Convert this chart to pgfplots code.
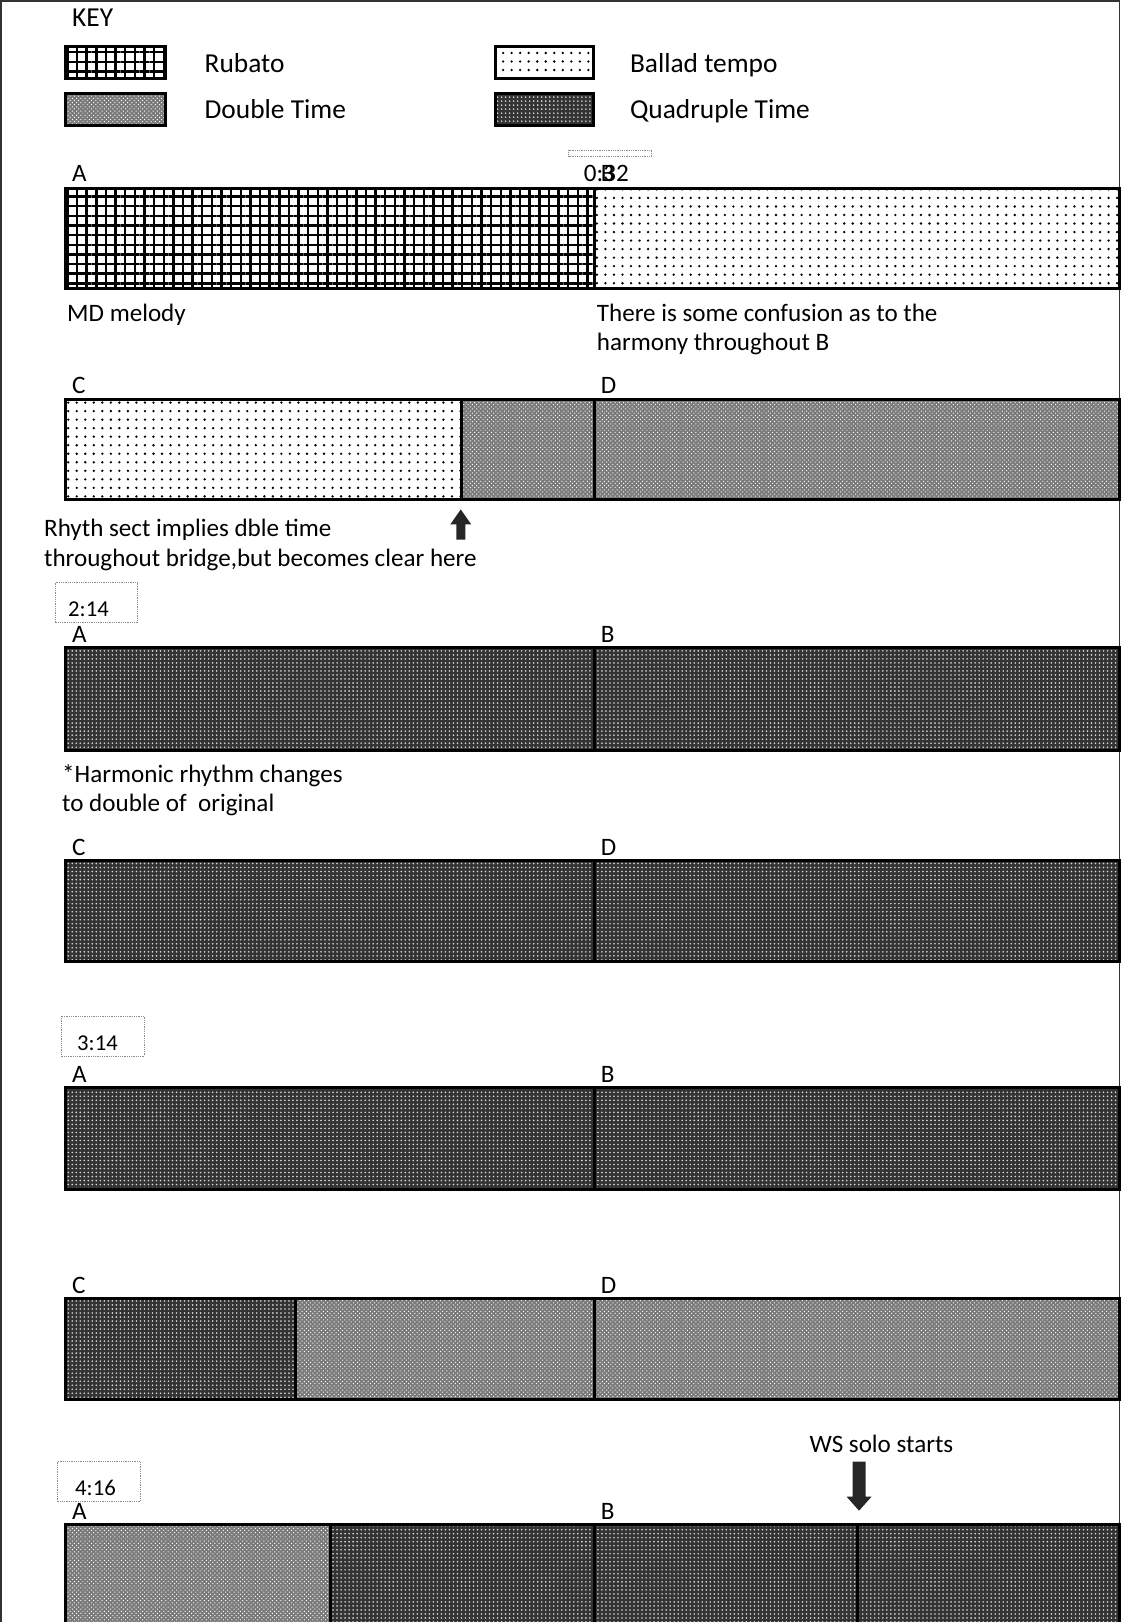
\documentclass[border=0pt]{standalone}
\usepackage{pgfplots}
\pgfplotsset{compat=1.18}
\usepackage{fontspec}
\setmainfont{Carlito}
\usetikzlibrary{patterns.meta}
\newcommand{\tf}{\fontsize{25bp}{29.5bp}\selectfont}
\newcommand{\kf}{\fontsize{27.3bp}{33bp}\selectfont}
\newcommand{\smallf}{\fontsize{22.6bp}{27bp}\selectfont}
\tikzset{
  rub/.style={fill=white, postaction={pattern={Hatch[angle=0,distance=9.6bp,line width=2.4bp]}, pattern color=black}},
  bal/.style={fill=white, postaction={pattern={Dots[angle=0,distance=8.5bp,radius=1.3bp]}, pattern color=black}},
  dbl/.style={fill=black!52, postaction={pattern={Dots[angle=45,distance=3bp,radius=0.7bp]}, pattern color=white}},
  quad/.style={fill=black!80, postaction={pattern={Dots[angle=0,distance=4bp,radius=0.9bp]}, pattern color=black!15}},
  lab/.style={font=\tf, anchor=base west, inner sep=0pt, text=black},
  klab/.style={font=\kf, anchor=base west, inner sep=0pt, text=black},
  slab/.style={font=\smallf, anchor=base west, inner sep=0pt, text=black},
  tbox/.style={draw=black!45, densely dotted, line width=0.8bp},
}
% segment: style, x0, x1, ytop, ybottom
\newcommand{\seg}[5]{\addplot[#1, draw=none, mark=none] coordinates {(#2,#4) (#3,#4) (#3,#5) (#2,#5) (#2,#4)};}
\newcommand{\outline}[4]{\addplot[draw=black, line width=3bp, line join=miter, mark=none] coordinates {(#1,#3) (#2,#3) (#2,#4) (#1,#4)} -- cycle;}
\newcommand{\divider}[3]{\addplot[draw=black, line width=3bp, mark=none] coordinates {(#1,#2) (#1,#3)};}
\begin{document}
\begin{tikzpicture}
\begin{axis}[width=1124bp, height=1622bp, scale only axis, hide axis,
  xmin=0, xmax=1124, ymin=0, ymax=1622, y dir=reverse, clip=true]
% frame
\draw[black!80, line width=1.6bp] (4,1622) -- (4,6) -- (1119,6) -- (1119,1622);
% key
\node[klab] at (75,32) {KEY};
\seg{rub}{68}{168}{52}{83}  \outline{68}{168}{52}{83}
\seg{bal}{497}{595}{52}{83} \outline{497}{595}{52}{83}
\seg{dbl}{68}{168}{98}{130} \outline{68}{168}{98}{130}
\seg{quad}{497}{595}{98}{130} \outline{497}{595}{98}{130}
\node[klab] at (207,77) {Rubato};
\node[klab] at (631,77) {Ballad tempo};
\node[klab] at (207,123) {Double Time};
\node[klab] at (631,123) {Quadruple Time};
% row 1
\draw[tbox] (570,155) rectangle (653,161);
\node[lab] at (75,186) {A};
\node[lab] at (585,186) {0:32};
\node[lab] at (602,186) {B};
\seg{rub}{68}{596}{193}{293}
\seg{bal}{596}{1119}{193}{293}
\outline{68}{1119}{193}{293}
\divider{596}{193}{293}
\node[lab] at (70,326) {MD melody};
\node[lab] at (598,326) {There is some confusion as to the};
\node[lab] at (598,355) {harmony throughout B};
% row 2
\node[lab] at (75,397) {C};
\node[lab] at (602,397) {D};
\seg{bal}{68}{463}{403}{503}
\seg{dbl}{463}{596}{403}{503}
\seg{dbl}{596}{1119}{403}{503}
\outline{68}{1119}{403}{503}
\divider{463}{403}{503}
\divider{596}{403}{503}
\fill[black!85] (462.5,513) -- (473,528) -- (467,528) -- (467,543) -- (458,543) -- (458,528) -- (452,528) -- cycle;
\node[lab] at (47,540) {Rhyth sect implies dble time};
\node[lab] at (47,570) {throughout bridge,but becomes clear here};
% row 3
\draw[tbox] (58,586) rectangle (140,626);
\node[slab] at (71,620) {2:14};
\node[lab] at (75,646) {A};
\node[lab] at (602,646) {B};
\seg{quad}{68}{596}{651}{753}
\seg{quad}{596}{1119}{651}{753}
\outline{68}{1119}{651}{753}
\divider{596}{651}{753}
\node[lab] at (65,785) {*Harmonic rhythm changes};
\node[lab] at (65,814) {to double of \ original};
% row 4
\node[lab] at (75,858) {C};
\node[lab] at (602,858) {D};
\seg{quad}{68}{596}{863}{964}
\seg{quad}{596}{1119}{863}{964}
\outline{68}{1119}{863}{964}
\divider{596}{863}{964}
% row 5
\draw[tbox] (64,1018) rectangle (147,1058);
\node[slab] at (80,1052) {3:14};
\node[lab] at (75,1084) {A};
\node[lab] at (602,1084) {B};
\seg{quad}{68}{596}{1089}{1191}
\seg{quad}{596}{1119}{1089}{1191}
\outline{68}{1119}{1089}{1191}
\divider{596}{1089}{1191}
% row 6
\node[lab] at (75,1295) {C};
\node[lab] at (602,1295) {D};
\seg{quad}{68}{298}{1300}{1400}
\seg{dbl}{298}{596}{1300}{1400}
\seg{dbl}{596}{1119}{1300}{1400}
\outline{68}{1119}{1300}{1400}
\divider{298}{1300}{1400}
\divider{596}{1300}{1400}
% row 7
\node[lab] at (810,1453) {WS solo starts};
\fill[black!85] (853,1462) -- (866,1462) -- (866,1497) -- (872,1497) -- (859.5,1511) -- (847,1497) -- (853,1497) -- cycle;
\draw[tbox] (60,1462) rectangle (143,1502);
\node[slab] at (78,1496) {4:16};
\node[lab] at (75,1520) {A};
\node[lab] at (602,1520) {B};
\seg{dbl}{68}{333}{1525}{1640}
\seg{quad}{333}{596}{1525}{1640}
\seg{quad}{596}{858}{1525}{1640}
\seg{quad}{858}{1119}{1525}{1640}
\outline{68}{1119}{1525}{1640}
\divider{333}{1525}{1640}
\divider{596}{1525}{1640}
\divider{858}{1525}{1640}
\end{axis}
\end{tikzpicture}
\end{document}
